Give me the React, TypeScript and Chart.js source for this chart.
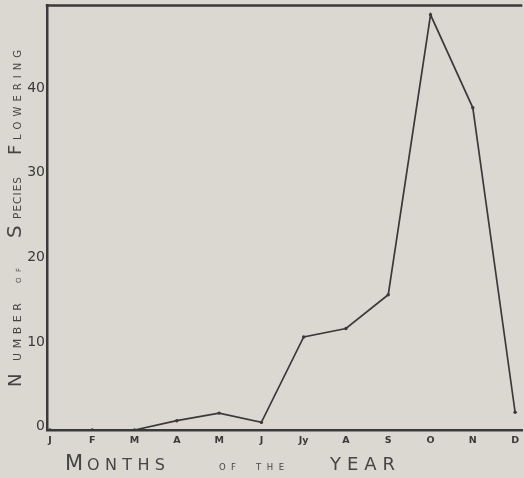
import React, { useEffect, useRef } from "react";
import { Chart, registerables } from "chart.js";

Chart.register(...registerables);

const months = ["J", "F", "M", "A", "M", "J", "Jy", "A", "S", "O", "N", "D"];
const speciesFlowering = [0, 0, 0, 1.1, 2.0, 0.9, 11.0, 12.0, 16.0, 49.1, 38.1, 2.1];
const yTickValues = [0, 10, 20, 30, 40];

const BG = "#dbd8d1";
const INK = "#3a3a3a";
const FAMILY = "'DejaVu Sans', 'Liberation Sans', sans-serif";

type Seg = { text: string; size: number; from: number; to: number };

// distribute characters of text between from..to along the current x-axis
function drawSpread(ctx: CanvasRenderingContext2D, seg: Seg) {
  ctx.font = `${seg.size}px ${FAMILY}`;
  const chars = seg.text.split("");
  const widths = chars.map((c) => ctx.measureText(c).width);
  const total = widths.reduce((a, b) => a + b, 0);
  const span = Math.abs(seg.to - seg.from);
  const extra = chars.length > 1 ? (span - total) / (chars.length - 1) : 0;
  let pos = seg.from;
  chars.forEach((c, i) => {
    ctx.fillText(c, pos, 0);
    pos += widths[i] + extra;
  });
}

const xTitle: Seg[] = [
  { text: "M", size: 21, from: 65, to: 83 },
  { text: "ONTHS", size: 16, from: 87, to: 165 },
  { text: "OF", size: 8.5, from: 219, to: 236 },
  { text: "THE", size: 8.5, from: 256, to: 284 },
  { text: "YEAR", size: 18, from: 330, to: 395 },
];

// canvas y positions (bottom → top) for the rotated axis title
const yTitle: Seg[] = [
  { text: "N", size: 18, from: 387, to: 367 },
  { text: "UMBER", size: 11, from: 361, to: 303 },
  { text: "OF", size: 7, from: 283, to: 268 },
  { text: "S", size: 20, from: 238, to: 221 },
  { text: "PECIES", size: 10.5, from: 219, to: 177 },
  { text: "F", size: 18, from: 155, to: 141 },
  { text: "LOWERING", size: 10, from: 140, to: 50 },
];

const decorPlugin = {
  id: "decor",
  beforeDraw(chart: any) {
    const { ctx, width, height } = chart;
    ctx.save();
    ctx.fillStyle = BG;
    ctx.fillRect(0, 0, width, height);
    ctx.restore();
  },
  afterDraw(chart: any) {
    const { ctx, chartArea } = chart;
    ctx.save();
    // top frame line
    ctx.strokeStyle = INK;
    ctx.lineWidth = 2.5;
    ctx.beginPath();
    ctx.moveTo(chartArea.left - 1.25, chartArea.top);
    ctx.lineTo(chartArea.right, chartArea.top);
    ctx.stroke();

    ctx.fillStyle = "#454545";
    ctx.textBaseline = "alphabetic";
    ctx.textAlign = "left";
    // x title
    ctx.save();
    ctx.translate(0, 470);
    xTitle.forEach((s) => drawSpread(ctx, s));
    ctx.restore();
    // y title (rotated, reading bottom to top)
    ctx.save();
    ctx.translate(21, 0);
    ctx.rotate(-Math.PI / 2);
    yTitle.forEach((s) => drawSpread(ctx, { ...s, from: -s.from, to: -s.to }));
    ctx.restore();
    ctx.restore();
  },
};

export default function App() {
  const ref = useRef<HTMLCanvasElement | null>(null);

  useEffect(() => {
    document.body.style.margin = "0";
    document.body.style.background = BG;
    const canvas = ref.current;
    if (!canvas) return;
    const chart = new Chart(canvas, {
      type: "line",
      data: {
        datasets: [
          {
            data: months.map((_, i) => ({ x: i, y: speciesFlowering[i] })),
            borderColor: INK,
            borderWidth: 1.7,
            backgroundColor: INK,
            pointRadius: 1.7,
            pointHoverRadius: 1.7,
            pointBorderWidth: 0,
            tension: 0,
            fill: false,
          },
        ],
      },
      options: {
        animation: false,
        responsive: false,
        maintainAspectRatio: false,
        events: [],
        layout: { padding: { top: 5.5, right: 0, left: 0, bottom: 0 } },
        plugins: {
          legend: { display: false },
          tooltip: { enabled: false },
          title: { display: false },
        },
        scales: {
          x: {
            type: "linear",
            min: -0.07,
            max: 11.17,
            grid: { display: false, drawTicks: false },
            border: { display: true, color: INK, width: 2.5 },
            afterBuildTicks: (scale: any) => {
              scale.ticks = months.map((_, i) => ({ value: i }));
            },
            afterFit: (scale: any) => {
              scale.height = 48;
              scale.paddingLeft = 0;
              scale.paddingRight = 0;
            },
            ticks: {
              autoSkip: false,
              maxRotation: 0,
              padding: 5,
              color: INK,
              font: { family: FAMILY, size: 9.5, weight: "bold" },
              callback: (v: any) => months[Math.round(Number(v))] ?? "",
            },
          },
          y: {
            type: "linear",
            min: 0,
            max: 50.2,
            grid: { display: false, drawTicks: false },
            border: { display: true, color: INK, width: 2.5 },
            afterBuildTicks: (scale: any) => {
              scale.ticks = yTickValues.map((v) => ({ value: v }));
            },
            afterFit: (scale: any) => {
              scale.width = 47;
              scale.paddingTop = 0;
              scale.paddingBottom = 0;
            },
            ticks: {
              padding: 2,
              labelOffset: -3.5,
              color: INK,
              font: { family: FAMILY, size: 14 },
              callback: (v: any) => String(v),
            },
          },
        },
      },
      plugins: [decorPlugin],
    });
    return () => chart.destroy();
  }, []);

  return (
    <div style={{ width: 524, height: 478, background: BG }}>
      <canvas ref={ref} width={524} height={478} style={{ display: "block" }} />
    </div>
  );
}
